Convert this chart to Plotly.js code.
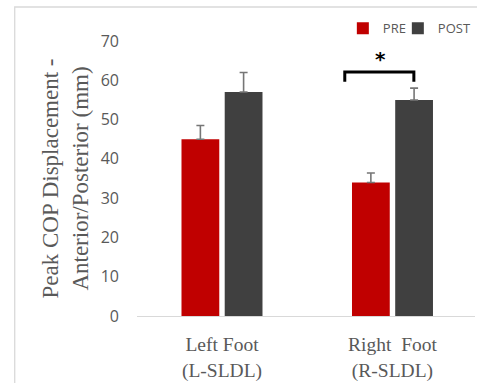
<!DOCTYPE html>
<html>
<head>
<meta charset="utf-8">
<script src="https://cdn.plot.ly/plotly-3.0.1.min.js"></script>
<style>html,body{margin:0;padding:0;background:#fff;}#chart{width:477px;height:383px;}</style>
</head>
<body>
<div id="chart"></div>
<script>
var categories = ["Left Foot<br>(L-SLDL)", "Right\u00a0 Foot<br>(R-SLDL)"];
var preValues = [45, 34];
var preErrors = [3.5, 2.4];
var postValues = [57, 55];
var postErrors = [5, 3];
var noErrors = [0, 0];
var yTicks = [0, 10, 20, 30, 40, 50, 60, 70];
var seriesNames = ["PRE", "POST"];

var traces = [
  {type: "bar", name: seriesNames[0], x: categories, y: preValues,
   marker: {color: "#c00000"}, legendwidth: 10,
   error_y: {type: "data", symmetric: false, array: preErrors, arrayminus: noErrors, visible: true,
             color: "#767676", thickness: 1.6, width: 4}},
  {type: "bar", name: seriesNames[1], x: categories, y: postValues,
   marker: {color: "#404040"},
   error_y: {type: "data", symmetric: false, array: postErrors, arrayminus: noErrors, visible: true,
             color: "#767676", thickness: 1.6, width: 4}}
];

var layout = {
  width: 477, height: 383,
  margin: {l: 137, r: 0, t: 41, b: 67, pad: 0},
  paper_bgcolor: "#ffffff", plot_bgcolor: "#ffffff",
  barmode: "group", bargap: 0.493, bargroupgap: 0.126,
  showlegend: true,
  legend: {orientation: "h", x: 0.609, xanchor: "left", y: 1.046, yanchor: "middle",
           font: {family: "Open Sans", size: 13, color: "#595959"},
           itemwidth: 30, bgcolor: "rgba(0,0,0,0)", traceorder: "normal"},
  xaxis: {type: "category", range: [-0.4985, 1.484], showgrid: false, zeroline: false,
          showline: true, linecolor: "#d9d9d9", linewidth: 1, ticks: "",
          tickfont: {family: "Liberation Serif", size: 19.5, color: "#595959"},
          ticklabelstandoff: 11, fixedrange: true},
  yaxis: {range: [0, 70], tickvals: yTicks, showgrid: false, zeroline: false, showline: false,
          ticks: "", tickfont: {family: "Open Sans", size: 16, color: "#595959"},
          ticklabelstandoff: 17, automargin: false,
          title: {text: "Peak COP Displacement -<br>Anterior/Posterior (mm)",
                  font: {family: "Liberation Serif", size: 23, color: "#595959"}, standoff: 5},
          fixedrange: true},
  shapes: [
    {type: "rect", xref: "paper", yref: "paper", x0: -0.3618, x1: 1.05, y0: -0.3, y1: 1.1236,
     line: {color: "#d9d9d9", width: 1.3}, fillcolor: "rgba(0,0,0,0)", layer: "below"},
    {type: "path", xref: "x", yref: "y",
     path: "M 0.7202,59.6 L 0.7202,62.1 L 1.1254,62.1 L 1.1254,59.6",
     line: {color: "#000000", width: 3}}
  ],
  annotations: [
    {xref: "x", yref: "y", x: 0.9283, y: 65.4, text: "*", showarrow: false,
     font: {family: "DejaVu Sans", size: 20, color: "#000000", weight: "bold"},
     xanchor: "center", yanchor: "middle"}
  ]
};

Plotly.newPlot("chart", traces, layout, {displayModeBar: false, staticPlot: true});
</script>
</body>
</html>
